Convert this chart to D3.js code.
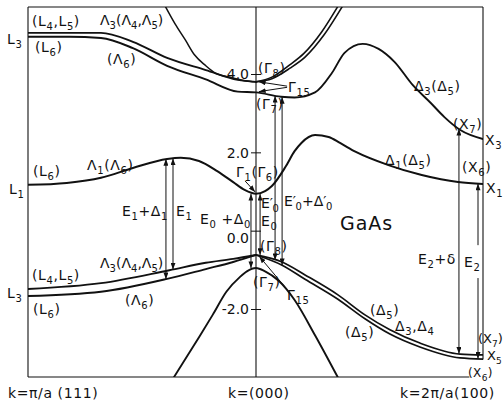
<!DOCTYPE html>
<html><head><meta charset="utf-8">
<script src="https://cdn.jsdelivr.net/npm/d3@7"></script>
<style>
html,body{margin:0;padding:0;background:#fff;}
svg{display:block;}
text{font-family:"DejaVu Sans",sans-serif;fill:#111;}
</style></head><body>
<svg id="chart" width="503" height="400"></svg>
<script>
// Reduced wave vector: -1 = L (pi/a(111)), 0 = Gamma (000), +1 = X (2pi/a(100)). Energies in eV.

// lowest conduction band: Λ1(Λ6) – Γ1(Γ6) – Δ1(Δ5) – X1
const kCB1 = [-1, -0.83, -0.68, -0.54, -0.39, -0.33, -0.25, -0.17, -0.10, -0.05, 0, 0.04, 0.07, 0.13, 0.17, 0.20, 0.26, 0.32, 0.37, 0.44, 0.58, 0.73, 0.89, 1];
const eCB1 = [1.17, 1.22, 1.35, 1.60, 1.83, 1.86, 1.78, 1.52, 1.24, 1.04, 0.94, 1.01, 1.14, 1.63, 2.03, 2.24, 2.44, 2.39, 2.24, 2.01, 1.68, 1.42, 1.24, 1.19];

// second conduction band: L6 – Λ6 – Γ7 – Δ3(Δ5) – X3
const kCB2 = [-1, -0.82, -0.68, -0.54, -0.39, -0.22, -0.08, 0, 0.11, 0.17, 0.26, 0.335, 0.39, 0.47, 0.54, 0.61, 0.69, 0.77, 0.83, 0.90, 1];
const eCB2 = [4.95, 4.95, 4.92, 4.66, 4.21, 3.86, 3.55, 3.53, 3.42, 3.40, 3.53, 4.03, 4.54, 4.77, 4.64, 4.31, 3.72, 3.26, 2.90, 2.57, 2.34];

// L4,L5 – Λ3(Λ4,Λ5) – Γ8
const kCB2u = [-1, -0.82, -0.68, -0.54, -0.39, -0.22, -0.08, 0];
const eCB2u = [5.05, 5.05, 5.05, 4.82, 4.41, 4.10, 3.85, 3.80];

// steep Γ8 branch toward L
const kCBs = [-0.40, -0.355, -0.31, -0.27, -0.22, -0.18, -0.11, -0.05, 0];
const eCBs = [5.75, 5.28, 4.87, 4.49, 4.21, 4.03, 3.91, 3.83, 3.80];

// steep Γ8 pair toward X
const kCBx1 = [0, 0.07, 0.15, 0.216, 0.30, 0.38];
const eCBx1 = [3.80, 3.88, 4.15, 4.43, 5.00, 5.72];
const kCBx2 = [0, 0.07, 0.15, 0.21, 0.29, 0.36];
const eCBx2 = [3.80, 3.92, 4.24, 4.52, 5.08, 5.72];

// valence bands along Λ: (L4,L5) – Λ3(Λ4,Λ5) and (L6) – (Λ6), both to Γ8
const kVBu = [-1, -0.68, -0.38, -0.22, -0.10, 0];
const eVBu = [-1.49, -1.34, -1.01, -0.82, -0.72, -0.62];
const kVBl = [-1, -0.68, -0.39, -0.22, -0.10, 0];
const eVBl = [-1.67, -1.56, -1.23, -0.98, -0.80, -0.62];

// valence bands along Δ: Γ8 – (Δ5), Δ3,Δ4 – X7 / X6
const kVBr = [0, 0.115, 0.216, 0.361, 0.48, 0.59, 0.722, 0.899, 1];
const eVBr1 = [-0.62, -0.80, -1.13, -1.64, -2.15, -2.53, -2.87, -3.15, -3.17];
const eVBr2 = [-0.62, -0.88, -1.24, -1.75, -2.25, -2.64, -2.97, -3.25, -3.28];

// split-off band through Γ7
const kSO = [-0.36, -0.25, -0.19, -0.13, -0.07, -0.04, 0, 0.04, 0.10, 0.17, 0.26, 0.36];
const eSO = [-3.74, -2.72, -2.15, -1.56, -1.18, -1.04, -0.955, -1.04, -1.28, -1.77, -2.67, -3.74];

// optical transitions (double arrows)
const transName = ["E1+Δ1", "E1", "E0+Δ0", "E0", "E0'", "E0'+Δ0'", "E2+δ", "E2"];
const transK = [-0.395, -0.364, -0.022, 0.018, 0.084, 0.115, 0.894, 0.978];
const transTop = [1.83, 1.845, 0.94, 0.94, 3.44, 3.41, 2.60, 1.20];
const transBottom = [-1.24, -0.99, -0.955, -0.62, -0.75, -0.88, -3.14, -3.27];
const e2Gap = [-0.37, -1.21];

// energy axis ticks
const tickE = [4, 2, 0, -2];
const tickText = ["4.0", "2.0", "0.0", "-2.0"];

const svg = d3.select("#chart");
const x = d3.scaleLinear().domain([-1, 0, 1]).range([28, 256, 483]);
const y = d3.scaleLinear().domain([-2, 4]).range([309, 74]);
const yTop = 7, yBottom = 377;

const defs = svg.append("defs");
defs.append("clipPath").attr("id", "plot").append("rect")
  .attr("x", x(-1)).attr("y", yTop).attr("width", x(1) - x(-1)).attr("height", yBottom - yTop);
defs.append("marker").attr("id", "ah").attr("viewBox", "0 0 8 6")
  .attr("refX", 8).attr("refY", 3).attr("markerWidth", 7).attr("markerHeight", 5)
  .attr("markerUnits", "userSpaceOnUse").attr("orient", "auto-start-reverse")
  .append("path").attr("d", "M0,0L8,3L0,6Z").attr("fill", "#111");

// frame
const ink = "#111";
const frame = svg.append("g").attr("stroke", ink).attr("stroke-width", 1.1).attr("fill", "none");
frame.append("line").attr("x1", x(-1)).attr("x2", x(-1)).attr("y1", yTop).attr("y2", yBottom);
frame.append("line").attr("x1", x(-1)).attr("x2", x(1)).attr("y1", yTop).attr("y2", yTop);
frame.append("line").attr("x1", x(1)).attr("x2", x(1)).attr("y1", yTop).attr("y2", y(-3.29));
frame.append("line").attr("x1", x(-1)).attr("x2", x(0.94)).attr("y1", yBottom).attr("y2", yBottom);
frame.append("line").attr("x1", x(0)).attr("x2", x(0)).attr("y1", yTop).attr("y2", yBottom);

// energy axis on k = 0
const axis = d3.axisLeft(y).tickValues(tickE).tickSize(0).tickFormat((d, i) => tickText[i]);
const ag = svg.append("g").attr("transform", `translate(${x(0)},0)`).call(axis);
ag.select(".domain").remove();
ag.selectAll(".tick text").attr("font-size", 14).attr("font-family", "DejaVu Sans")
  .attr("fill", ink).attr("x", -7).attr("dy", (d) => d === 0 ? "0.85em" : "0.35em");
ag.selectAll(".tick").append("line").attr("x1", -5).attr("x2", 5).attr("stroke", ink).attr("stroke-width", 1);

// bands
const line = d3.line().x(d => x(d[0])).y(d => y(d[1])).curve(d3.curveMonotoneX);
const zip = (k, e) => k.map((v, i) => [v, e[i]]);
const bands = svg.append("g").attr("clip-path", "url(#plot)").attr("fill", "none").attr("stroke", ink)
  .attr("stroke-linejoin", "round").attr("stroke-linecap", "round");
[
  [kCB1, eCB1, 2], [kCB2, eCB2, 1.9], [kCB2u, eCB2u, 1.9], [kCBs, eCBs, 1.5],
  [kCBx1, eCBx1, 1.6], [kCBx2, eCBx2, 1.6],
  [kVBu, eVBu, 1.9], [kVBl, eVBl, 1.9], [kVBr, eVBr1, 1.7], [kVBr, eVBr2, 1.7],
  [kSO, eSO, 1.9]
].forEach(([k, e, w]) => bands.append("path").attr("d", line(zip(k, e))).attr("stroke-width", w));

// transitions
const arr = svg.append("g").attr("stroke", ink).attr("stroke-width", 1);
transK.forEach((k, i) => {
  if (transName[i] === "E2") {
    arr.append("line").attr("x1", x(k)).attr("x2", x(k)).attr("y1", y(e2Gap[0])).attr("y2", y(transTop[i]))
      .attr("marker-end", "url(#ah)");
    arr.append("line").attr("x1", x(k)).attr("x2", x(k)).attr("y1", y(e2Gap[1])).attr("y2", y(transBottom[i]))
      .attr("marker-end", "url(#ah)");
  } else {
    arr.append("line").attr("x1", x(k)).attr("x2", x(k)).attr("y1", y(transTop[i])).attr("y2", y(transBottom[i]))
      .attr("marker-start", "url(#ah)").attr("marker-end", "url(#ah)");
  }
});

// pointers from state labels to Γ levels
const pointers = [
  [[-0.048, 1.27], [-0.004, 0.99]],
  [[0.137, 3.69], [0.013, 3.80]],
  [[0.137, 3.66], [0.013, 3.55]],
  [[0.128, -1.44], [0.015, -0.66]]
];
pointers.forEach(([a, b]) => arr.append("line")
  .attr("x1", x(a[0])).attr("y1", y(a[1])).attr("x2", x(b[0])).attr("y2", y(b[1]))
  .attr("marker-end", "url(#ah)"));

// rich text: "_c" subscript, "'" raised prime before the following subscript
const tg = svg.append("g");
function rich(px, py, s, o = {}) {
  const size = o.size || 14, sub = Math.round(size * 0.72);
  const t = tg.append("text").attr("x", px).attr("y", py).attr("font-size", size)
    .attr("text-anchor", o.anchor || "start").attr("letter-spacing", o.ls ?? 0.6);
  let shift = 0;
  for (let i = 0; i < s.length; i++) {
    const c = s[i];
    if (c === "_") {
      t.append("tspan").attr("font-size", sub).attr("dy", 4 - shift).text(s[++i]);
      shift = 4;
    } else if (c === "'") {
      t.append("tspan").attr("dy", -shift).attr("letter-spacing", -0.5).text("′");
      shift = 0;
    } else {
      let run = c;
      while (i + 1 < s.length && s[i + 1] !== "_" && s[i + 1] !== "'") run += s[++i];
      t.append("tspan").attr("dy", -shift).text(run);
      shift = 0;
    }
  }
  return t;
}

// state and transition labels
rich(32, 26, "(L_4,L_5)");
rich(100, 25, "Λ_3(Λ_4,Λ_5)", { ls: 0 });
rich(7, 44, "L_3");
rich(35, 52, "(L_6)");
rich(107, 64, "(Λ_6)");
rich(258, 73, "(Γ_8)");
rich(288, 92, "Γ_1_5");
rich(256, 109, "(Γ_7)");
rich(414, 91, "Δ_3(Δ_5)");
rich(453, 129, "(X_7)");
rich(485, 145, "X_3");
rich(236, 177, "Γ_1(Γ_6)");
rich(385, 165, "Δ_1(Δ_5)");
rich(462, 172, "(X_6)");
rich(486, 193, "X_1");
rich(9, 194, "L_1");
rich(33, 176, "(L_6)");
rich(87, 170, "Λ_1(Λ_6)");
rich(122, 216, "E_1+Δ_1");
rich(176, 216, "E_1");
rich(200, 224, "E_0 +Δ_0");
rich(261, 208, "E'_0", { ls: 0 });
rich(261, 226, "E_0");
rich(284, 206, "E'_0+Δ'_0", { ls: 0 });
rich(260, 251, "(Γ_8)");
rich(418, 264, "E_2+δ");
rich(464, 267, "E_2");
rich(100, 268, "Λ_3(Λ_4,Λ_5)", { ls: 0 });
rich(32, 280, "(L_4,L_5)");
rich(7, 298, "L_3");
rich(33, 314, "(L_6)");
rich(125, 305, "(Λ_6)");
rich(253, 287, "(Γ_7)");
rich(287, 300, "Γ_1_5");
rich(370, 315, "(Δ_5)");
rich(395, 331, "Δ_3,Δ_4");
rich(345, 337, "(Δ_5)");
rich(478, 343, "(X_7)", { size: 13, ls: 0 });
rich(487, 360, "X_5", { size: 13, ls: 0 });
rich(468, 377, "(X_6)", { size: 12, ls: 0.4 });
rich(8, 398, "k=π/a (111)");
rich(228, 398, "k=(000)");
rich(400, 398, "k=2π/a(100)");
rich(340, 230, "GaAs", { size: 19, ls: 1 });
</script>
</body></html>
